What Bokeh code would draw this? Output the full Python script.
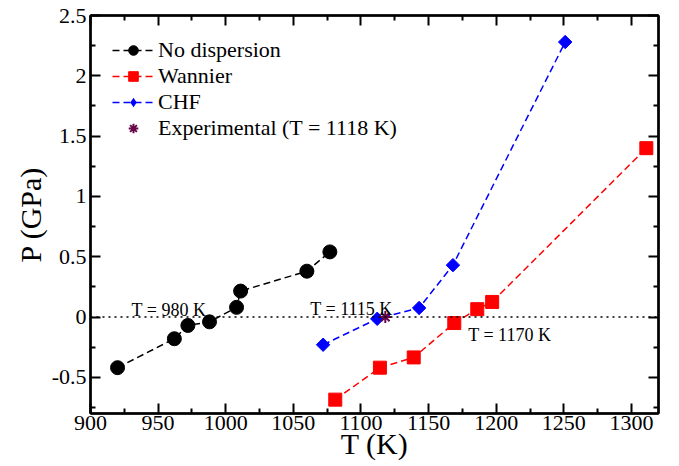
import math
from bokeh.plotting import figure
from bokeh.models import Range1d, LinearAxis, FixedTicker, Span, Label, Legend, LegendItem
from bokeh.embed import file_html
from bokeh.resources import INLINE

# ---- data ----
nodisp_T = [920, 962, 972, 988, 1008, 1011, 1060, 1077]
nodisp_P = [-0.42, -0.18, -0.07, -0.04, 0.08, 0.215, 0.38, 0.54]
wannier_T = [1081, 1114, 1139, 1169, 1186, 1197, 1311]
wannier_P = [-0.685, -0.42, -0.335, -0.05, 0.065, 0.125, 1.40]
chf_T = [1072, 1112, 1143, 1168, 1251]
chf_P = [-0.23, -0.015, 0.075, 0.43, 2.28]
exp_T = [1118]
exp_P = [0.0]

x_ticks = [900, 950, 1000, 1050, 1100, 1150, 1200, 1250, 1300]
x_tick_labels = ["900", "950", "1000", "1050", "1100", "1150", "1200", "1250", "1300"]
x_minor = [925, 975, 1025, 1075, 1125, 1175, 1225, 1275]
y_ticks = [-0.5, 0, 0.5, 1, 1.5, 2, 2.5]
y_tick_labels = ["-0.5", "0", "0.5", "1", "1.5", "2", "2.5"]
y_minor = [-0.75, -0.25, 0.25, 0.75, 1.25, 1.75, 2.25]

series_names = ["No dispersion", "Wannier", "CHF", "Experimental (T = 1118 K)"]
annot_text = ["T = 980 K", "T = 1115 K", "T = 1170 K"]
annot_T = [958, 1093, 1210]
annot_P = [0.062, 0.07, -0.145]

FONT = "Liberation Serif"

p = figure(width=679, height=466, output_backend="svg", toolbar_location=None,
           x_range=Range1d(900, 1320), y_range=Range1d(-0.8, 2.5),
           min_border_left=90, min_border_right=21, min_border_top=15, min_border_bottom=53,
           x_axis_label="T (K)", y_axis_label="P (GPa)")
p.xgrid.visible = False
p.ygrid.visible = False
p.outline_line_color = "black"
p.outline_line_width = 2
p.background_fill_color = "white"
p.border_fill_color = "white"


def style(ax):
    ax.axis_line_width = 2.5
    ax.major_tick_line_width = 2
    ax.minor_tick_line_width = 2
    ax.major_tick_in = 10
    ax.major_tick_out = 0
    ax.minor_tick_in = 5
    ax.minor_tick_out = 0
    ax.major_label_text_font = FONT
    ax.major_label_text_font_size = "22px"
    ax.major_label_text_color = "black"
    ax.axis_label_text_font = FONT
    ax.axis_label_text_font_size = "30px"
    ax.axis_label_text_font_style = "normal"
    ax.axis_label_text_color = "black"


p.xaxis.ticker = FixedTicker(ticks=x_ticks, minor_ticks=x_minor)
p.yaxis.ticker = FixedTicker(ticks=y_ticks, minor_ticks=y_minor)
p.xaxis.major_label_overrides = {t: l for t, l in zip(x_ticks, x_tick_labels)}
p.yaxis.major_label_overrides = {t: l for t, l in zip(y_ticks, y_tick_labels)}
for ax in p.xaxis + p.yaxis:
    style(ax)
p.xaxis.major_label_standoff = 2
p.xaxis.axis_label_standoff = -6
p.yaxis.major_label_standoff = 4
p.yaxis.axis_label_standoff = 2

top = LinearAxis(ticker=FixedTicker(ticks=x_ticks, minor_ticks=x_minor),
                 major_label_overrides={t: "" for t in x_ticks})
style(top)
top.major_label_standoff = 0
right = LinearAxis(ticker=FixedTicker(ticks=y_ticks, minor_ticks=y_minor),
                   major_label_overrides={t: "" for t in y_ticks})
style(right)
right.major_label_standoff = 0
p.add_layout(top, "above")
p.add_layout(right, "right")

p.add_layout(Span(location=0, dimension="width", line_color="black",
                  line_dash="2 4", line_width=1.5))

DASH = "7 4"
l1 = p.line(nodisp_T, nodisp_P, line_color="black", line_dash=DASH, line_width=1.5)
s1 = p.scatter(nodisp_T, nodisp_P, marker="circle", size=14, fill_color="black", line_color="black")
l2 = p.line(wannier_T, wannier_P, line_color="#ff0000", line_dash=DASH, line_width=1.5)
s2 = p.scatter(wannier_T, wannier_P, marker="square", size=13, fill_color="#ff0000", line_color="#ff0000")
l3 = p.line(chf_T, chf_P, line_color="#0000ff", line_dash=DASH, line_width=1.5)
s3 = p.scatter(chf_T, chf_P, marker="square", angle=math.pi / 4, size=9.5,
               fill_color="#0000ff", line_color="#0000ff")
# zero-size diamond renderer used only for the legend swatch
s3_key = p.scatter(chf_T, chf_P, marker="diamond", size=0,
                   fill_color="#0000ff", line_color="#0000ff", line_alpha=0)
s4 = p.scatter(exp_T, exp_P, marker="asterisk", size=12, line_color="#670748", line_width=2)

for txt, tx, ty in zip(annot_text, annot_T, annot_P):
    p.add_layout(Label(x=tx, y=ty, text=txt, text_align="center", text_baseline="alphabetic",
                       text_font=FONT, text_font_size="18px", text_color="black"))

legend = Legend(items=[
    LegendItem(label=series_names[0], renderers=[l1, s1]),
    LegendItem(label=series_names[1], renderers=[l2, s2]),
    LegendItem(label=series_names[2], renderers=[l3, s3_key]),
    LegendItem(label=series_names[3], renderers=[s4]),
], location="top_left")
legend.margin = 8
legend.padding = 14
legend.spacing = 0
legend.glyph_width = 42
legend.glyph_height = 24
legend.label_height = 21
legend.label_standoff = 4
legend.label_text_font = FONT
legend.label_text_font_size = "22px"
legend.label_text_color = "black"
legend.border_line_alpha = 0
legend.background_fill_alpha = 0
p.add_layout(legend)

open("out.html", "w").write(file_html(p, INLINE))
